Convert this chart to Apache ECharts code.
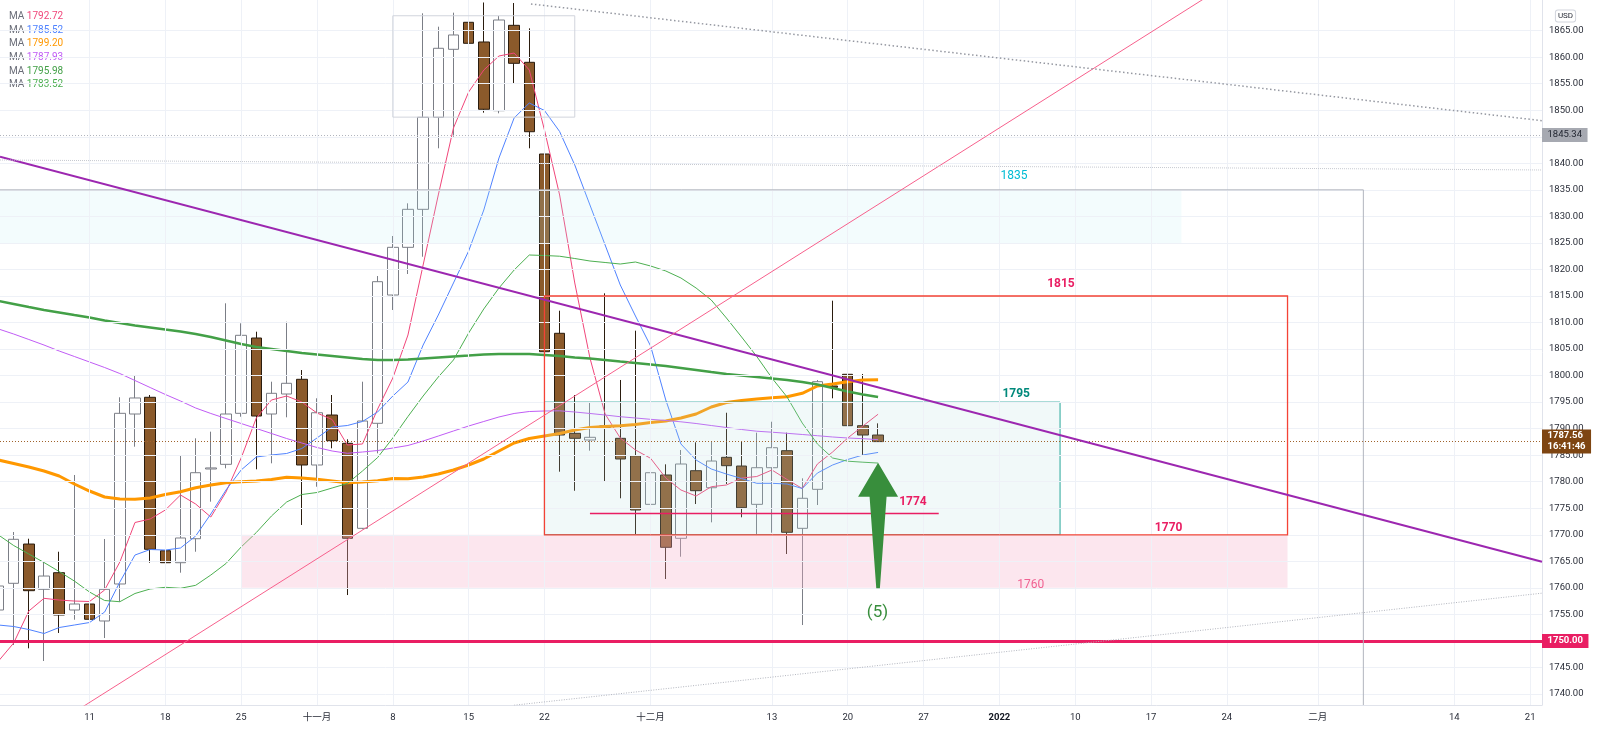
<!DOCTYPE html>
<html>
<head>
<meta charset="utf-8">
<script src="https://cdn.jsdelivr.net/npm/echarts@6.0.0/dist/echarts.min.js"></script>
<style>
html,body{margin:0;padding:0;background:#ffffff;}
#chart{width:1600px;height:731px;}
</style>
</head>
<body>
<div id="chart"></div>
<script>
// ---------------- data ----------------
const dates = ['2021-10-01','2021-10-04','2021-10-05','2021-10-06','2021-10-07','2021-10-08','2021-10-11','2021-10-12','2021-10-13','2021-10-14','2021-10-15','2021-10-18','2021-10-19','2021-10-20','2021-10-21','2021-10-22','2021-10-25','2021-10-26','2021-10-27','2021-10-28','2021-10-29',
'2021-11-01','2021-11-02','2021-11-03','2021-11-04','2021-11-05','2021-11-08','2021-11-09','2021-11-10','2021-11-11','2021-11-12','2021-11-15','2021-11-16','2021-11-17','2021-11-18','2021-11-19','2021-11-22','2021-11-23','2021-11-24','2021-11-25','2021-11-26','2021-11-29','2021-11-30',
'2021-12-01','2021-12-02','2021-12-03','2021-12-06','2021-12-07','2021-12-08','2021-12-09','2021-12-10','2021-12-13','2021-12-14','2021-12-15','2021-12-16','2021-12-17','2021-12-20','2021-12-21','2021-12-22'];

const opens = [1755.83,1760.86,1768.26,1759.73,1762.86,1755.83,1756.96,1753.76,1760.73,1792.76,1795.91,1767.0,1764.74,1769.26,1782.4,1783.28,1792.89,1807.08,1792.76,1796.53,1799.3,1783.15,1792.57,1787.24,1771.22,1791.01,1815.18,1824.17,1831.33,1848.67,1861.48,1866.57,1862.86,1849.91,1866.0,1859.03,1841.75,1807.97,1789.12,1787.86,1790.5,1788.18,1784.9,1775.74,1781.27,1769.34,1782.08,1778.87,1784.6,1782.96,1775.74,1782.64,1785.85,1771.22,1778.57,1798.04,1800.24,1790.56,1788.8];
const closes = [1760.35,1769.15,1759.47,1762.23,1754.89,1756.96,1754.08,1759.73,1792.89,1795.78,1767.27,1764.74,1769.4,1781.7,1782.6,1792.76,1807.59,1792.38,1796.66,1798.55,1783.15,1793.0,1787.73,1769.34,1791.44,1817.69,1824.17,1831.33,1848.67,1861.67,1864.18,1862.61,1850.18,1867.0,1858.84,1845.95,1804.5,1788.8,1788.18,1788.37,1790.26,1784.28,1774.67,1781.7,1767.64,1783.34,1778.31,1783.9,1783.02,1775.1,1782.64,1786.41,1770.47,1776.88,1798.85,1797.79,1790.56,1788.8,1787.56];
const lows = [1752.5,1749.23,1748.61,1746.22,1751.5,1754.0,1750.18,1750.55,1757.39,1786.6,1764.74,1760.1,1762.86,1766.81,1776.24,1782.53,1792.25,1782.34,1783.47,1792.14,1771.85,1779.06,1786.3,1758.65,1771.03,1785.35,1812.36,1819.14,1822.4,1842.83,1845.01,1856.2,1849.54,1849.42,1855.08,1842.83,1804.2,1781.89,1778.3,1785.85,1780.14,1776.88,1770.15,1772.28,1761.67,1765.87,1775.8,1772.35,1779.57,1773.3,1770.15,1770.39,1766.38,1753.0,1775.61,1795.72,1788.48,1784.85,1787.5];
const highs = [1762.5,1770.53,1769.26,1764.93,1766.81,1781.27,1760.92,1769.21,1795.91,1800.0,1796.34,1771.79,1784.98,1788.18,1789.43,1813.62,1809.85,1808.27,1798.85,1810.15,1801.05,1795.72,1796.34,1787.99,1798.85,1818.76,1826.3,1832.46,1868.26,1865.74,1868.38,1870.5,1870.3,1867.76,1870.2,1865.43,1848.67,1812.22,1796.34,1794.89,1815.5,1799.17,1808.46,1794.27,1783.28,1785.98,1787.43,1787.54,1793.0,1787.54,1789.24,1791.31,1789.24,1780.64,1799.17,1814.11,1803.88,1800.3,1791.0];

// moving averages (one value per bar)
const maPink = [1746.22,1749.61,1755.64,1758.03,1757.71,1757.52,1757.43,1759.6,1764.87,1772.32,1772.98,1774.67,1777.5,1775.8,1773.35,1778.06,1784.47,1792.01,1795.4,1796.15,1795.02,1792.95,1791.72,1786.92,1787.11,1793.7,1799.54,1807.65,1820.84,1834.03,1846.65,1853.43,1857.58,1860.22,1860.78,1857.58,1846.28,1834.03,1817.45,1803.31,1792.76,1788.24,1785.98,1784.41,1780.7,1778.44,1777.31,1779.06,1779.38,1780.7,1780.98,1782.21,1780.42,1778.72,1783.34,1785.6,1788.24,1790.5,1792.72];
const maBlue = [1753.0,1752.72,1752.15,1751.4,1752.53,1753.0,1753.47,1755.45,1761.1,1766.19,1767.23,1767.13,1767.51,1769.77,1773.92,1778.44,1782.21,1784.66,1785.04,1785.32,1786.26,1788.24,1790.31,1790.59,1791.35,1793.14,1796.15,1798.79,1805.76,1811.41,1817.45,1823.47,1831.2,1841.0,1848.54,1851.36,1849.95,1845.99,1839.68,1832.14,1824.61,1817.07,1811.23,1805.57,1795.4,1787.11,1784.09,1782.4,1781.45,1780.61,1779.7,1779.7,1779.57,1778.72,1781.64,1783.15,1784.19,1785.04,1785.52];
const maOrange = [1784.09,1783.43,1782.77,1782.02,1781.08,1779.57,1778.25,1777.12,1776.74,1776.69,1776.93,1777.59,1778.12,1778.87,1779.38,1779.81,1780.0,1780.14,1780.42,1780.83,1780.7,1780.46,1780.14,1779.81,1779.95,1780.19,1780.6,1780.57,1780.89,1781.45,1782.21,1783.15,1784.28,1785.79,1787.3,1788.14,1788.61,1789.08,1789.74,1790.22,1790.41,1790.56,1790.78,1791.16,1791.44,1792.01,1792.76,1794.08,1794.93,1795.3,1795.59,1795.83,1796.02,1796.66,1798.04,1798.42,1798.85,1799.17,1799.2];
const maPurple = [1808.78,1807.83,1806.8,1805.76,1804.63,1803.6,1802.56,1801.52,1800.39,1799.07,1797.75,1796.44,1795.21,1793.89,1792.86,1791.91,1790.97,1790.03,1789.09,1788.14,1787.3,1786.45,1785.79,1785.36,1785.6,1785.88,1786.35,1786.83,1787.67,1788.61,1789.56,1790.5,1791.35,1792.2,1792.86,1793.23,1793.33,1793.36,1793.14,1792.86,1792.57,1792.25,1792.01,1791.76,1791.54,1791.29,1790.97,1790.59,1790.22,1789.84,1789.52,1789.33,1789.12,1788.9,1788.67,1788.43,1788.24,1788.11,1787.93];
const maGreenSlow = [1814.05,1813.49,1812.92,1812.36,1811.89,1811.41,1810.94,1810.38,1809.91,1809.44,1809.06,1808.68,1808.31,1807.83,1807.27,1806.61,1805.95,1805.39,1805.01,1804.63,1804.25,1803.97,1803.69,1803.41,1803.12,1802.94,1802.94,1803.03,1803.22,1803.41,1803.6,1803.78,1803.97,1804.07,1804.07,1804.07,1803.88,1803.69,1803.41,1803.22,1802.94,1802.65,1802.37,1802.09,1801.81,1801.43,1801.05,1800.67,1800.3,1800.02,1799.73,1799.45,1799.17,1798.79,1798.32,1797.66,1797.0,1796.44,1795.98];
const maGreenMid = [1769.96,1767.98,1766.38,1764.78,1763.08,1761.29,1759.22,1757.62,1757.39,1758.94,1759.79,1760.11,1759.92,1760.48,1762.42,1764.59,1767.7,1770.43,1773.54,1776.18,1777.59,1777.97,1778.82,1779.66,1782.02,1784.56,1788.24,1792.29,1796.15,1799.73,1802.94,1808.02,1812.55,1816.5,1819.89,1822.72,1822.63,1822.49,1822.06,1821.59,1821.31,1821.02,1821.4,1820.65,1819.71,1818.39,1816.5,1814.24,1810.85,1807.27,1803.6,1799.54,1795.96,1791.06,1787.11,1784.47,1783.87,1783.68,1783.52];

// axis ticks (x = trading-day index, 0 = 2021-10-01)
const xTickIdx  = [6,11,16,21,26,31,36,43,51,56,61,66,71,76,81,87,96,101];
const xTickText = ['11','18','25','十一月','8','15','22','十二月','13','20','27','2022','10','17','24','二月','14','21'];
const yTicks = [1740,1745,1750,1755,1760,1765,1770,1775,1780,1785,1790,1795,1800,1805,1810,1815,1820,1825,1830,1835,1840,1845,1850,1855,1860,1865];

// drawings in data coordinates: [xStart, xEnd, priceLow, priceHigh]
const boxPeak  = [26, 38, 1848.7, 1867.8];
const zoneBlue = [-10, 78, 1825, 1835];
const boxGray  = [-10, 90, 1700, 1835];
const boxRed   = [36, 85, 1770, 1815];
const boxTeal  = [36, 70, 1770, 1795];
const zonePink = [16, 85, 1760, 1770];
const line1774 = [[39, 1774], [62, 1774]];
const trendPurple = [[0.098, 1841.25], [101.78, 1764.93]];
const trendPink   = [[0, 1727.58], [85, 1880.95]];
const trendTopDot = [[35.11, 1870.02], [101.78, 1848.03]];
const trendLowDot = [[34, 1737.89], [101.78, 1759.0]];
const trendFlat   = [[0.098, 1840.62], [101.78, 1838.74]];
const level1750 = 1750;
const level1845 = 1845.34;
const lastTime = '16:41:46';
const arrowSpec = [58, 1783.58, 1777.18, 1759.92]; // x, tip, head base, tail
const noteText = ['1835','1815','1795','1774','1770','1760','(5)'];
const noteX    = [66.96, 70.06, 67.11, 60.3, 77.16, 68.06, 57.96];
const noteY    = [1837.7, 1817.3, 1796.53, 1776.18, 1771.28, 1760.6, 1755.36];

// ---------------- chart ----------------
const FONT = 'Roboto, "Noto Sans CJK SC", sans-serif';
const chart = echarts.init(document.getElementById('chart'));
const candleData = dates.map((d, i) => [i, opens[i], closes[i], lows[i], highs[i]]);

const maList = [maPink, maBlue, maOrange, maPurple, maGreenSlow, maGreenMid];
const maNames = ['MA5', 'MA10', 'MA50', 'MA20', 'MA100', 'MA30'];
const maColors = ['#f0467a', '#4f82ff', '#ff9800', '#c05cf5', '#43a047', '#4caf50'];
const maWidths = [1, 1, 3, 1, 2.5, 1];

const noteStyles = [
  {color:'#00bcd4', font:'12px ' + FONT},
  {color:'#e91e63', font:'bold 12px ' + FONT},
  {color:'#00897b', font:'bold 12px ' + FONT},
  {color:'#e91e63', font:'bold 12px ' + FONT},
  {color:'#e91e63', font:'bold 12px ' + FONT},
  {color:'#f06292', font:'12px ' + FONT},
  {color:'#388e3c', font:'17px ' + FONT}
];

function rectSeries(box, style, z) {
  return {
    type: 'custom', silent: true, clip: true, z: z,
    encode: {x: [0, 1], y: [2, 3]},
    data: [box],
    renderItem: function (params, api) {
      const a = api.coord([api.value(0), api.value(3)]);
      const b = api.coord([api.value(1), api.value(2)]);
      return {type: 'rect', shape: {x: a[0], y: a[1], width: b[0] - a[0], height: b[1] - a[1]}, style: style};
    }
  };
}
function trendSeries(pts, color, width, type, z) {
  return {
    type: 'line', data: pts, showSymbol: false, silent: true, z: z,
    lineStyle: {color: color, width: width, type: type}, animation: false
  };
}

const series = [];
// grid lines
series.push({
  type: 'line', data: [], silent: true, z: 0,
  markLine: {
    silent: true, symbol: ['none', 'none'], animation: false,
    label: {show: false},
    lineStyle: {color: '#eef1f7', width: 1, type: 'solid'},
    data: yTicks.map(v => ({yAxis: v})).concat(xTickIdx.map(i => ({xAxis: i})))
  }
});
// candles
series.push({
  type: 'candlestick', name: 'XAUUSD', data: candleData, barWidth: 11, z: 2,
  encode: {x: 0, y: [1, 2, 3, 4]},
  itemStyle: {color: '#ffffff', color0: '#8b5a2b', borderColor: '#7b7e86', borderColor0: '#2a1c0e', borderWidth: 1}
});
// moving averages
maList.forEach((arr, k) => {
  series.push({
    type: 'line', name: maNames[k], data: arr.map((v, i) => [i, v]), showSymbol: false, silent: true, z: 3,
    lineStyle: {color: maColors[k], width: maWidths[k]}, itemStyle: {color: maColors[k]}
  });
});
// zones and boxes
series.push(rectSeries(zoneBlue, {fill: 'rgba(178,235,242,0.16)'}, 4));
series.push(rectSeries(zonePink, {fill: 'rgba(247,178,201,0.32)'}, 4));
series.push(rectSeries(boxTeal, {fill: 'rgba(178,223,219,0.18)', stroke: '#26a69a', lineWidth: 1}, 4));
series.push(rectSeries(boxGray, {fill: 'none', stroke: '#b2b5be', lineWidth: 1}, 5));
series.push(rectSeries(boxRed, {fill: 'none', stroke: '#f44336', lineWidth: 1.3}, 5));
series.push(rectSeries(boxPeak, {fill: 'none', stroke: '#d1d4dc', lineWidth: 1}, 5));
// trend lines
series.push(trendSeries(line1774, '#e91e63', 1.5, 'solid', 6));
series.push(trendSeries(trendPurple, '#9c27b0', 2, 'solid', 6));
series.push(trendSeries(trendPink, '#f7608c', 1, 'solid', 6));
series.push(trendSeries(trendTopDot, '#9598a1', 1.5, [1.5, 2.5], 6));
series.push(trendSeries(trendLowDot, '#b2b5be', 1, [1, 1.5], 6));
series.push(trendSeries(trendFlat, '#c5c8cf', 1, [1, 1], 6));
// price levels with axis tags
series.push({
  type: 'line', data: [], silent: true, z: 7,
  markLine: {
    silent: true, symbol: ['none', 'none'], animation: false,
    data: [
      {yAxis: level1845, lineStyle: {color: '#b2b5be', width: 1, type: [1, 2]},
       label: {show: true, position: 'end', distance: 0, formatter: () => level1845.toFixed(2),
               backgroundColor: '#a6a9b1', color: '#1e222d', fontFamily: FONT, fontSize: 9.5, lineHeight: 11, padding: [1.5, 5.5]}},
      {yAxis: closes[closes.length - 1], lineStyle: {color: '#a0632c', width: 1, type: [1, 2]},
       label: {show: true, position: 'end', distance: 0, formatter: () => closes[closes.length - 1].toFixed(2) + '\n' + lastTime,
               backgroundColor: '#7e4512', color: '#ffffff', fontFamily: FONT, fontSize: 9.5, fontWeight: 'bold', lineHeight: 11, padding: [1, 5.5]}},
      {yAxis: level1750, lineStyle: {color: '#e91e63', width: 3, type: 'solid'},
       label: {show: true, position: 'end', distance: 0, formatter: () => level1750.toFixed(2),
               backgroundColor: '#e91e63', color: '#ffffff', fontFamily: FONT, fontSize: 9.5, fontWeight: 'bold', lineHeight: 11, padding: [1.5, 5.5]}}
    ]
  }
});
// arrow
series.push({
  type: 'custom', silent: true, clip: true, z: 8,
  encode: {x: 0, y: [1, 2, 3]},
  data: [arrowSpec],
  renderItem: function (params, api) {
    const tip = api.coord([api.value(0), api.value(1)]);
    const hb = api.coord([api.value(0), api.value(2)]);
    const tail = api.coord([api.value(0), api.value(3)]);
    const cx = tip[0];
    return {type: 'polygon', shape: {points: [[cx, tip[1]], [cx + 20, hb[1]], [cx + 8.5, hb[1]], [cx + 1.8, tail[1]], [cx - 1.8, tail[1]], [cx - 8.5, hb[1]], [cx - 20, hb[1]]]},
            style: {fill: '#388e3c'}};
  }
});
// text notes
series.push({
  type: 'custom', silent: true, clip: false, z: 9,
  encode: {x: 0, y: 1},
  data: noteX.map((x, i) => [x, noteY[i]]),
  renderItem: function (params, api) {
    const p = api.coord([api.value(0), api.value(1)]);
    const s = noteStyles[params.dataIndex];
    return {type: 'text', x: p[0], y: p[1],
            style: {text: noteText[params.dataIndex], fill: s.color, font: s.font, align: 'center', verticalAlign: 'middle'}};
  }
});

const legendRich = {m: {color: '#6a6d78', fontSize: 10, lineHeight: 13.6, fontFamily: FONT}};
maColors.forEach((c, k) => { legendRich['v' + k] = {color: c, fontSize: 10, lineHeight: 13.6, fontFamily: FONT}; });

chart.setOption({
  animation: false,
  backgroundColor: '#ffffff',
  grid: {left: 0, right: 58, top: 0, bottom: 26, containLabel: false, outerBoundsMode: 'none'},
  legend: {
    orient: 'vertical', left: 4, top: 9.8, padding: 0, itemGap: 0, itemWidth: 0, itemHeight: 13.6,
    icon: 'none', selectedMode: false, data: maNames,
    formatter: function (name) {
      const k = maNames.indexOf(name);
      const arr = maList[k];
      return '{m|MA} {v' + k + '|' + arr[arr.length - 1].toFixed(2) + '}';
    },
    textStyle: {fontFamily: FONT, fontSize: 10, lineHeight: 13.6, rich: legendRich}
  },
  xAxis: {
    type: 'value', min: 0.098, max: 101.78,
    axisLine: {show: true, onZero: false, lineStyle: {color: '#e0e3eb', width: 1}},
    axisTick: {show: false, customValues: xTickIdx},
    splitLine: {show: false},
    axisLabel: {
      customValues: xTickIdx, margin: 8, color: '#2a2e39', fontFamily: FONT, fontSize: 9.5,
      formatter: function (v) {
        const k = xTickIdx.indexOf(Math.round(v));
        const t = k >= 0 ? xTickText[k] : '';
        return /^\d{4}$/.test(t) ? '{b|' + t + '}' : t;
      },
      rich: {b: {fontWeight: 'bold', fontSize: 9.5, fontFamily: FONT, color: '#131722'}}
    }
  },
  yAxis: {
    type: 'value', position: 'right', min: 1737.93, max: 1870.77, scale: true,
    axisLine: {show: true, lineStyle: {color: '#e0e3eb', width: 1}},
    axisTick: {show: false, customValues: yTicks},
    splitLine: {show: false},
    axisLabel: {customValues: yTicks, margin: 7, color: '#2a2e39', fontFamily: FONT, fontSize: 9.5,
                formatter: v => Number(v).toFixed(2)}
  },
  graphic: [{
    type: 'text', x: 1565.5, y: 16, z: 100,
    style: {text: 'USD', font: '8px ' + FONT, fill: '#2a2e39', align: 'center', verticalAlign: 'middle',
            padding: [1.5, 2], borderColor: '#d1d4dc', borderWidth: 1, borderRadius: 2, backgroundColor: '#ffffff'}
  }],
  series: series
});
</script>
</body>
</html>
